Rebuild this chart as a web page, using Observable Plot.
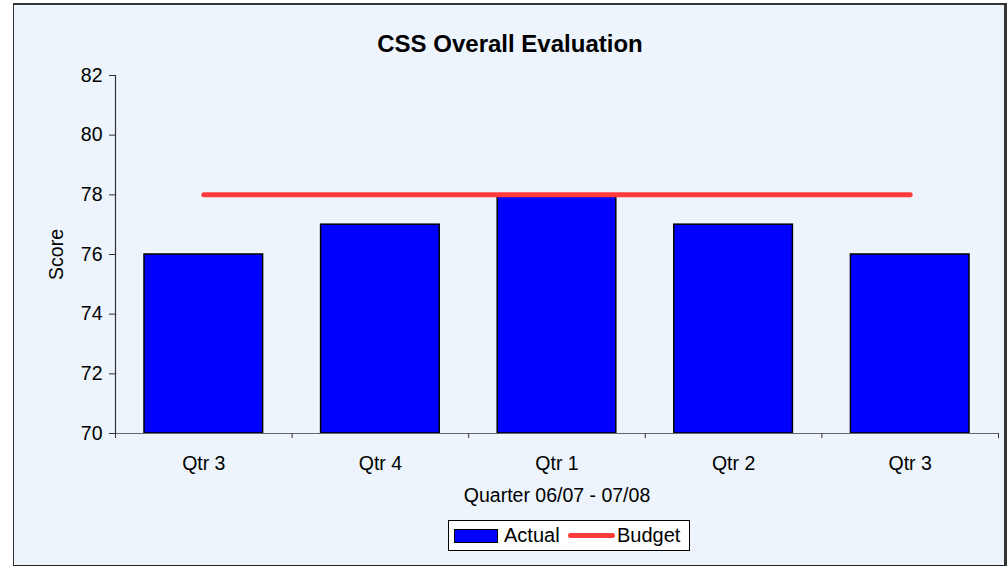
<!DOCTYPE html>
<html><head><meta charset="utf-8">
<script src="https://cdn.jsdelivr.net/npm/d3@7"></script>
<script src="https://cdn.jsdelivr.net/npm/@observablehq/plot@0.6"></script>
<style>
body{margin:0;background:#fff;font-family:"Liberation Sans",Arial,sans-serif;}
#wrap{position:relative;width:1007px;height:567px;overflow:hidden;}
#box{position:absolute;left:13px;top:3px;width:990px;height:560px;background:#EDF4FC;border-top:2px solid #333;border-left:1.5px solid #333;border-bottom:1.5px solid #222;border-right:3px solid #333;}
#chart{position:absolute;left:0;top:0;}
#legend{position:absolute;left:448px;top:520px;width:240px;height:29px;background:#fff;border:1px solid #000;font-size:20px;color:#000;}
#legend .sw{position:absolute;left:5px;top:8px;width:42px;height:12px;background:#0000FF;border:1px solid #000;}
#legend .t1{position:absolute;left:55px;top:3px;}
#legend .ln{position:absolute;left:119px;top:12px;width:47px;height:5px;border-radius:3px;background:#FF3B3B;}
#legend .t2{position:absolute;left:168px;top:3px;}
</style></head>
<body>
<div id="wrap"><div id="box"></div><div id="chart"></div>
<div id="legend"><div class="sw"></div><span class="t1">Actual</span><div class="ln"></div><span class="t2">Budget</span></div>
</div>
<script>
const categories = ["Qtr 3","Qtr 4","Qtr 1","Qtr 2","Qtr 3"];
const actual = [76, 77, 78, 77, 76];
const budget = [78, 78, 78, 78, 78];
const yTicks = [70, 72, 74, 76, 78, 80, 82];
const title = "CSS Overall Evaluation";
const xTitle = "Quarter 06/07 - 07/08";
const yTitle = "Score";

const rows = categories.map((c, i) => ({i, c, actual: actual[i], budget: budget[i]}));
const FS = 19.5;

const plot = Plot.plot({
  width: 1007, height: 567,
  marginLeft: 115, marginRight: 9, marginTop: 75, marginBottom: 134,
  style: {background: "transparent", fontFamily: "'Liberation Sans', Arial, sans-serif", color: "#000"},
  x: {type: "linear", domain: [0, categories.length], axis: null},
  y: {type: "linear", domain: [70, 82], axis: null},
  marks: [
    Plot.rectY(rows, {x1: d => d.i, x2: d => d.i + 1, y1: () => 70, y2: "actual", insetLeft: 29, insetRight: 29, fill: "#0000FF", stroke: "#000", strokeWidth: 1.5}),
    Plot.ruleY([70], {stroke: "#666", strokeWidth: 1.2}),
    Plot.ruleX([0], {stroke: "#333", strokeWidth: 1.2}),
    Plot.axisX(d3.range(categories.length + 1), {anchor: "bottom", tickSize: 5, tickFormat: () => "", stroke: "#333", label: null}),
    Plot.axisY(yTicks, {anchor: "left", tickSize: 6, tickPadding: 7, fontSize: FS, stroke: "#333", label: null, tickFormat: d => d}),
    Plot.line(rows, {x: d => d.i + 0.5, y: "budget", stroke: "#FF3B3B", strokeWidth: 5}),
    Plot.text(rows, {x: d => d.i + 0.5, text: "c", frameAnchor: "bottom", lineAnchor: "middle", dy: 30, fontSize: FS}),
    Plot.text([xTitle], {frameAnchor: "bottom", lineAnchor: "middle", dy: 62, fontSize: FS}),
    Plot.text([yTitle], {frameAnchor: "left", textAnchor: "middle", lineAnchor: "middle", dx: -59, rotate: -90, fontSize: FS}),
    Plot.text([title], {frameAnchor: "top", lineAnchor: "middle", dy: -31, dx: -47, fontSize: 24, fontWeight: "bold"})
  ]
});
document.getElementById("chart").appendChild(plot);
</script>
</body></html>
